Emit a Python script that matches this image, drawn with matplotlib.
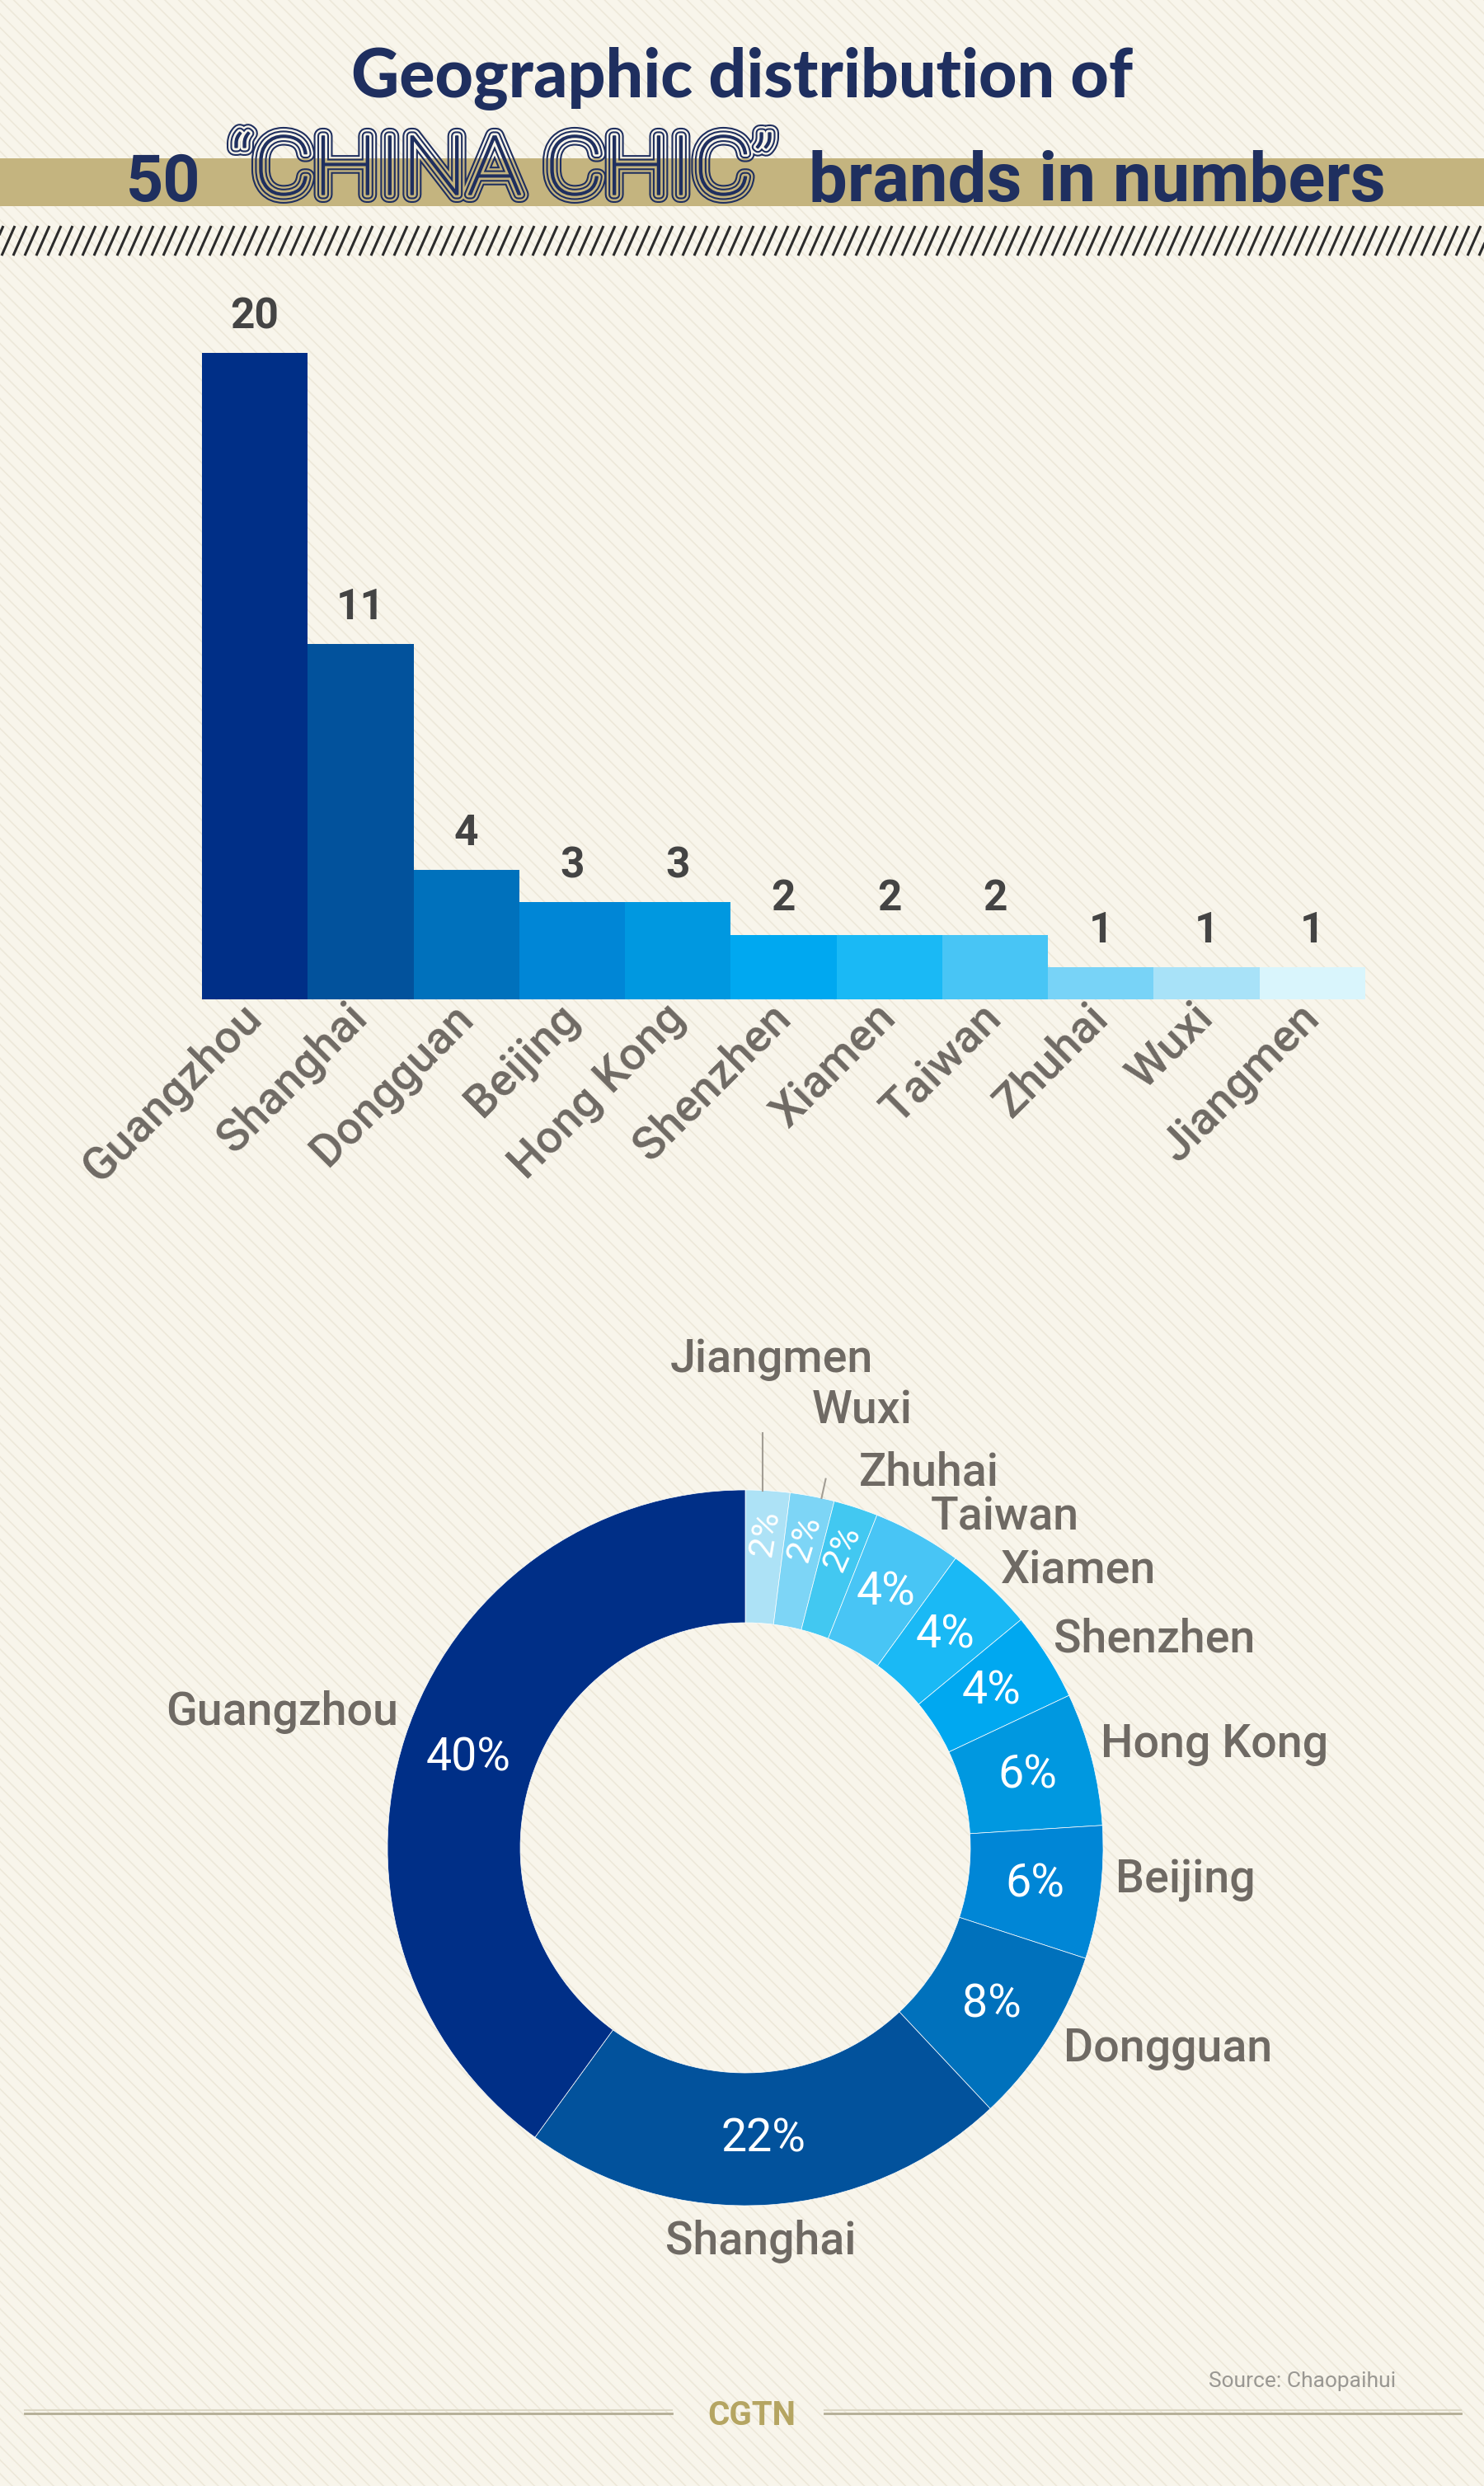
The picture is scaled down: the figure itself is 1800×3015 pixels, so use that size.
# coding: utf-8

import numpy as np
import matplotlib.pyplot as plt
import matplotlib.patheffects as pe
from matplotlib.patches import Rectangle, PathPatch
from matplotlib.textpath import TextPath
from matplotlib.font_manager import FontProperties
from matplotlib.transforms import Affine2D


# Dados
cidades = ["Guangzhou", "Shanghai", "Dongguan", "Beijing", "Hong Kong", "Shenzhen",
           "Xiamen", "Taiwan", "Zhuhai", "Wuxi", "Jiangmen"]
marcas = [20, 11, 4, 3, 3, 2, 2, 2, 1, 1, 1]
cores = ["#002f87", "#02529c", "#0071bc", "#0086d6", "#0098e0", "#00a8f0",
         "#1ab9f5", "#48c5f5", "#78d3f7", "#a8e2f8", "#d9f5fc"]
# na rosca as tres fatias menores sao um pouco mais escuras
cores_rosca = cores[:8] + ["#42c8f1", "#7dd5f6", "#ade2f6"]

# posicao dos rotulos externos da rosca (raio externo = 1)
rotulos_pos = {"Guangzhou": (-1.295, 0.378), "Shanghai": (0.044, -1.101),
               "Dongguan": (1.182, -0.560), "Beijing": (1.230, -0.090),
               "Hong Kong": (1.311, 0.290), "Shenzhen": (1.143, 0.583),
               "Xiamen": (0.931, 0.774), "Taiwan": (0.726, 0.924),
               "Zhuhai": (0.514, 1.048), "Wuxi": (0.327, 1.221),
               "Jiangmen": (0.074, 1.366)}

W, H = 1800, 3015
FUNDO = "#f8f5eb"
FAIXA = "#c4b47f"
AZUL = "#1f2f5f"
CINZA = "#6f6a64"
FONTE = "Roboto"

plt.rcParams["hatch.linewidth"] = 1.2
fig = plt.figure(figsize=(W / 100, H / 100), dpi=100, facecolor=FUNDO)

# camada de fundo em pixels
bg = fig.add_axes([0, 0, 1, 1], zorder=0)
bg.set_xlim(0, W)
bg.set_ylim(0, H)
bg.axis("off")
bg.add_patch(Rectangle((0, 0), W, H, facecolor=FUNDO, edgecolor="#ede8da",
                       hatch="\\\\", lw=0, zorder=-5))

# titulo
bg.text(900, H - 118, "Geographic distribution of", ha="center", va="baseline",
        fontsize=58, fontfamily="Lato", fontweight="black", color=AZUL)
bg.add_patch(Rectangle((0, H - 250), W, 58, facecolor=FAIXA, lw=0, zorder=1))
bg.text(153, H - 244, "50", ha="left", va="baseline", fontsize=57,
        fontfamily=FONTE, fontweight="bold", color=AZUL, zorder=3)
bg.text(981, H - 244, "brands in numbers", ha="left", va="baseline", fontsize=60,
        fontfamily=FONTE, fontweight="bold", color=AZUL, zorder=3)

# "CHINA CHIC" com letras de linhas paralelas
tp = TextPath((0, 0), "\u201cCHINA CHIC\u201d", size=100,
              prop=FontProperties(family=FONTE, weight=100))
ext = tp.get_extents()
sx = 650 / ext.width
tp = Affine2D().translate(-ext.x0, 0).scale(sx, 1.0).translate(285, H - 236).transform_path(tp)
for gap, y0, y1 in [(FUNDO, 100, 192), (FAIXA, 192, 260)]:
    chic = PathPatch(tp, facecolor=AZUL, edgecolor=AZUL, lw=1.0, zorder=4)
    chic.set_path_effects([pe.Stroke(linewidth=14.4, foreground=AZUL, joinstyle="round"),
                           pe.Stroke(linewidth=11.4, foreground=gap, joinstyle="round"),
                           pe.Stroke(linewidth=8.0, foreground=AZUL, joinstyle="round"),
                           pe.Stroke(linewidth=5.0, foreground=gap, joinstyle="round"),
                           pe.Normal()])
    bg.add_patch(chic)
    chic.set_clip_path(Rectangle((0, H - y1), W, y1 - y0, transform=bg.transData))

# faixa listrada
for x0 in np.arange(-40, W + 20, 14):
    bg.plot([x0, x0 + 16], [H - 310, H - 274], color="#2b2b2b", lw=2.2,
            solid_capstyle="butt", zorder=2)

# rodape
bg.text(1693, H - 2888, "Source: Chaopaihui", ha="right", va="center",
        fontsize=19, fontfamily=FONTE, color="#9a9893")
bg.text(912, H - 2930, "CGTN", ha="center", va="center", fontsize=29,
        fontfamily=FONTE, fontweight="bold", color="#b5a562")
for xa, xb in [(30, 815), (1000, 1772)]:
    bg.plot([xa, xb], [H - 2923, H - 2923], color="#ddd8c6", lw=1.5)
    bg.plot([xa, xb], [H - 2926.5, H - 2926.5], color="#b3ad95", lw=2)

# grafico de barras
ax = fig.add_axes([245 / W, (H - 1212) / H, 1411 / W, 862 / H], zorder=2)
ax.patch.set_alpha(0)
pos = np.arange(len(cidades))
ax.bar(pos, marcas, width=1.0, color=cores, lw=0)
ax.set_xlim(-0.5, len(cidades) - 0.5)
ax.set_ylim(0, 22)
for s in ax.spines.values():
    s.set_visible(False)
ax.set_yticks([])
ax.set_xticks(pos)
ax.set_xticklabels(cidades, rotation=45, ha="right", va="center",
                   rotation_mode="anchor", fontsize=40, fontfamily=FONTE,
                   fontweight="medium", color=CINZA)
ax.tick_params(axis="x", length=0, pad=10)
for i, v in enumerate(marcas):
    ax.annotate(str(v), (i, v), xytext=(0, 21.6), textcoords="offset points",
                ha="center", va="baseline", fontsize=37, fontfamily=FONTE,
                fontweight="bold", color="#444444")

# grafico de rosca
ax2 = fig.add_axes([0, (H - 2900) / H, 1, 1340 / H], zorder=2)
ax2.patch.set_alpha(0)
wedges, _ = ax2.pie(marcas[::-1], colors=cores_rosca[::-1], startangle=90,
                    counterclock=False, radius=1,
                    wedgeprops=dict(width=0.371, edgecolor="white", linewidth=0.5))
ax2.set_aspect("auto")
ax2.set_xlim(-904 / 434, 896 / 434)
ax2.set_ylim(-(2900 - 2241) / 434, (2241 - 1560) / 434)
ax2.axis("off")

total = sum(marcas)
for w, nome, v in zip(wedges, cidades[::-1], marcas[::-1]):
    ang = (w.theta1 + w.theta2) / 2
    pct = v / total * 100
    pequeno = pct <= 2
    r = 0.88 if pequeno else 0.815
    px, py = r * np.cos(np.radians(ang)), r * np.sin(np.radians(ang))
    ax2.text(px, py, "%d%%" % round(pct), ha="center", va="center",
             rotation=ang - 6 if pequeno else 0, rotation_mode="anchor",
             fontsize=31 if pequeno else 40, fontfamily=FONTE, color="white")
    lx, ly = rotulos_pos[nome]
    ax2.text(lx, ly, nome, ha="center", va="center", fontsize=40,
             fontfamily=FONTE, fontweight="medium", color=CINZA)

# linhas de chamada (Jiangmen e Wuxi)
a_j = np.radians((wedges[0].theta1 + wedges[0].theta2) / 2 + 0.8)
ax2.plot([np.cos(a_j), np.cos(a_j)], [np.sin(a_j), 1.16], color="#a29d94", lw=1.5)
a_w = np.radians((wedges[1].theta1 + wedges[1].theta2) / 2 - 1.5)
ax2.plot([np.cos(a_w), 1.055 * np.cos(a_w)], [np.sin(a_w), 1.055 * np.sin(a_w)],
         color="#a29d94", lw=1.5)

fig.savefig("out.png", dpi=100, facecolor=FUNDO)
